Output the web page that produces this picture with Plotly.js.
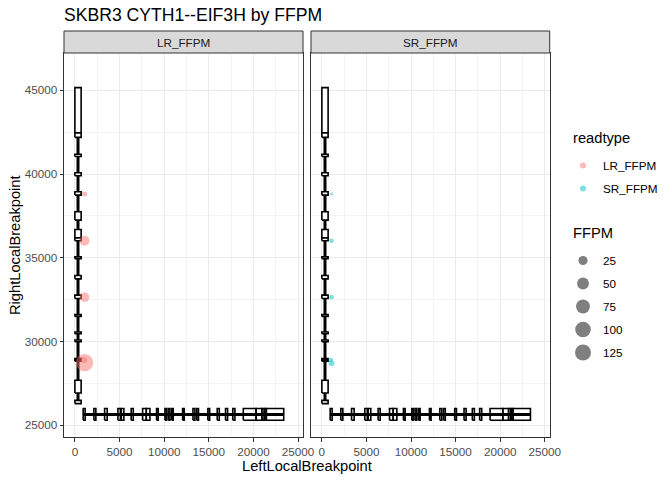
<!DOCTYPE html>
<html>
<head>
<meta charset="utf-8">
<script src="https://cdn.plot.ly/plotly-3.0.1.min.js"></script>
<style>
  html, body { margin: 0; padding: 0; background: #fff; }
  #chart { width: 672px; height: 480px; }
</style>
</head>
<body>
<div id="chart"></div>
<script>
// ---- data ----
const facets = ['LR_FFPM', 'SR_FFPM'];

// CYTH1 exons along LeftLocalBreakpoint
const leftExonStart = [930, 2130, 3330, 4820, 5200, 6310, 7590, 8000, 9150, 10090, 10460, 10840,
  12070, 13230, 13650, 14900, 15950, 16880, 17700, 18870, 20300, 20950, 21250, 21450];
const leftExonEnd = [1150, 2350, 3620, 5100, 5490, 6540, 8000, 8410, 9340, 10280, 10650, 11020,
  12250, 13450, 13850, 15100, 16180, 17110, 17930, 20300, 20950, 21200, 21450, 23400];

// EIF3H exons along RightLocalBreakpoint
const rightExonStart = [26295, 26930, 28820, 28920, 29990, 30470, 31500, 32570, 33745, 34950,
  36020, 36200, 37250, 38745, 39900, 41050, 42190, 42470];
const rightExonEnd = [26490, 27690, 28890, 28990, 30090, 30570, 31610, 32770, 33940, 35060,
  36200, 36690, 37750, 38940, 40080, 41180, 42470, 45160];

// breakpoints
const lrLeft = [1080, 1080, 1080, 1080, 1000];
const lrRight = [38810, 36020, 32650, 28740, 28900];
const lrFFPM = [3.6, 31, 28, 131, 9];

const srLeft = [1080, 1080, 1080, 1000, 1080];
const srRight = [38810, 36020, 32650, 28900, 28700];
const srFFPM = [0.8, 2.7, 2.7, 2.7, 6];

const sizeBreaks = [25, 50, 75, 100, 125];

// ---- styling ----
const C = {
  lr: '#F8766D', sr: '#00BFC4', border: '#333333', grid: '#EBEBEB',
  tick: '#4D4D4D', strip: '#D9D9D9', font: 'Liberation Sans, Arial, sans-serif'
};
const hTrack = [25300, 26000];   // y band of the horizontal gene
const vTrack = [0, 700];         // x band of the vertical gene

const allFFPM = lrFFPM.concat(srFFPM);
const fMin = Math.min(...allFFPM), fMax = Math.max(...allFFPM);
// ggplot-like area scale: diameter grows with sqrt of value
function ffpmSize(v) {
  const t = Math.max(0, (v - fMin) / (fMax - fMin));
  return 2.9 * (1 + 5 * Math.sqrt(t));
}

function rects(starts, ends, lo, hi, horizontal) {
  const a = [], b = [];
  starts.forEach((s, i) => {
    const e = ends[i];
    a.push(s, e, e, s, s, null);
    b.push(lo, lo, hi, hi, lo, null);
  });
  return horizontal ? { x: a, y: b } : { x: b, y: a };
}

const traces = [];
[['x', 'y'], ['x2', 'y2']].forEach(([xa, ya], k) => {
  const hMid = (hTrack[0] + hTrack[1]) / 2, vMid = (vTrack[0] + vTrack[1]) / 2;
  traces.push({
    x: [leftExonStart[0], leftExonEnd[leftExonEnd.length - 1]], y: [hMid, hMid],
    xaxis: xa, yaxis: ya, mode: 'lines', line: { color: '#000', width: 3 },
    showlegend: false, hoverinfo: 'skip'
  });
  traces.push({
    x: [vMid, vMid], y: [rightExonStart[0], rightExonStart[rightExonStart.length - 1]],
    xaxis: xa, yaxis: ya, mode: 'lines', line: { color: '#000', width: 3 },
    showlegend: false, hoverinfo: 'skip'
  });
  const h = rects(leftExonStart, leftExonEnd, hTrack[0], hTrack[1], true);
  traces.push({
    x: h.x, y: h.y, xaxis: xa, yaxis: ya, mode: 'lines',
    line: { color: '#000', width: 1.6 }, showlegend: false, hoverinfo: 'skip'
  });
  const v = rects(rightExonStart, rightExonEnd, vTrack[0], vTrack[1], false);
  traces.push({
    x: v.x, y: v.y, xaxis: xa, yaxis: ya, mode: 'lines', fill: 'toself', fillcolor: '#fff',
    line: { color: '#000', width: 1.6 }, showlegend: false, hoverinfo: 'skip'
  });
  const isLR = k === 0;
  const xs = isLR ? lrLeft : srLeft, ys = isLR ? lrRight : srRight, fs = isLR ? lrFFPM : srFFPM;
  traces.push({
    x: xs, y: ys, xaxis: xa, yaxis: ya, mode: 'markers', showlegend: false,
    marker: { color: isLR ? C.lr : C.sr, opacity: 0.5, size: fs.map(ffpmSize), line: { width: 0 } }
  });
});

// legend entries
[['LR_FFPM', C.lr], ['SR_FFPM', C.sr]].forEach(([name, col]) => {
  traces.push({
    x: [null], y: [null], mode: 'markers', name: name, legend: 'legend', legendgroup: name,
    marker: { color: col, opacity: 0.5, size: 6 }
  });
});
sizeBreaks.forEach(b => {
  traces.push({
    x: [null], y: [null], mode: 'markers', name: String(b), legend: 'legend2', legendgroup: 's' + b,
    marker: { color: '#000', opacity: 0.5, size: ffpmSize(b) }
  });
});

const W = 672, H = 480;
const xRange = [-1220, 25560], yRange = [24302, 47227];
const yDom = [43 / H, 427 / H];
const axCommon = {
  showgrid: true, gridcolor: C.grid, gridwidth: 1, zeroline: false,
  showline: true, linecolor: C.border, linewidth: 1, mirror: true,
  ticks: 'outside', ticklen: 3.5, tickwidth: 1, tickcolor: C.border,
  tickfont: { family: C.font, size: 11.7, color: C.tick },
  minor: { showgrid: true, gridcolor: C.grid, gridwidth: 0.6 }
};
const xAx = d => Object.assign({}, axCommon, {
  domain: d, range: xRange, tick0: 0, dtick: 5000, tickformat: 'd',
  minor: Object.assign({}, axCommon.minor, { dtick: 2500, tick0: 0 })
});
const yAx = () => Object.assign({}, axCommon, {
  domain: yDom, range: yRange, tick0: 25000, dtick: 5000, tickformat: 'd',
  minor: Object.assign({}, axCommon.minor, { dtick: 2500, tick0: 0 })
});

const legendBase = {
  xanchor: 'left', yanchor: 'top', x: 563 / W,
  font: { family: C.font, size: 11.7, color: '#000' }, tracegroupgap: 4, itemsizing: 'trace'
};
const dom1 = [64 / W, 303 / W], dom2 = [311 / W, 549.7 / W];
const layout = {
  width: W, height: H,
  margin: { l: 0, r: 0, t: 0, b: 0 },
  paper_bgcolor: '#fff', plot_bgcolor: '#fff',
  font: { family: C.font, color: '#000' },
  title: {
    text: 'SKBR3 CYTH1--EIF3H by FFPM', x: 64 / W, xanchor: 'left',
    xref: 'paper', y: 1 - 15 / H, yanchor: 'middle',
    font: { family: C.font, size: 17.6, color: '#000' }
  },
  xaxis: xAx(dom1),
  xaxis2: Object.assign(xAx(dom2), { anchor: 'y2' }),
  yaxis: yAx(),
  yaxis2: Object.assign(yAx(), { anchor: 'x2', matches: 'y', showticklabels: false, ticks: '' }),
  showlegend: true,
  legend: Object.assign({}, legendBase, { y: 1 - 151 / H }),
  legend2: Object.assign({}, legendBase, { y: 1 - 246 / H }),
  shapes: facets.map((f, i) => ({
    type: 'rect', xref: (i ? 'x2' : 'x') + ' domain', yref: 'paper',
    x0: 0, x1: 1, y0: yDom[1], y1: 1 - 31 / H,
    fillcolor: C.strip, line: { color: C.border, width: 1 }, layer: 'above'
  })),
  annotations: facets.map((f, i) => ({
    text: f, xref: (i ? 'x2' : 'x') + ' domain', yref: 'paper', x: 0.5, y: 1 - 42 / H,
    xanchor: 'center', yanchor: 'middle', showarrow: false,
    font: { family: C.font, size: 11.7, color: '#1A1A1A' }
  })).concat([
    { text: 'LeftLocalBreakpoint', xref: 'paper', yref: 'paper', x: (64 + 549.7) / 2 / W, y: 1 - 466 / H,
      xanchor: 'center', yanchor: 'middle', showarrow: false, font: { family: C.font, size: 14.7, color: '#000' } },
    { text: 'RightLocalBreakpoint', xref: 'paper', yref: 'paper', x: 15 / W, y: 1 - 245 / H,
      xanchor: 'center', yanchor: 'middle', textangle: -90, showarrow: false,
      font: { family: C.font, size: 14.7, color: '#000' } },
    { text: 'readtype', xref: 'paper', yref: 'paper', x: 571 / W, y: 1 - 138 / H,
      xanchor: 'left', yanchor: 'middle', showarrow: false, font: { family: C.font, size: 14.7, color: '#000' } },
    { text: 'FFPM', xref: 'paper', yref: 'paper', x: 571 / W, y: 1 - 233 / H,
      xanchor: 'left', yanchor: 'middle', showarrow: false, font: { family: C.font, size: 14.7, color: '#000' } }
  ])
};

Plotly.newPlot('chart', traces, layout, { displayModeBar: false, staticPlot: true });
</script>
</body>
</html>
